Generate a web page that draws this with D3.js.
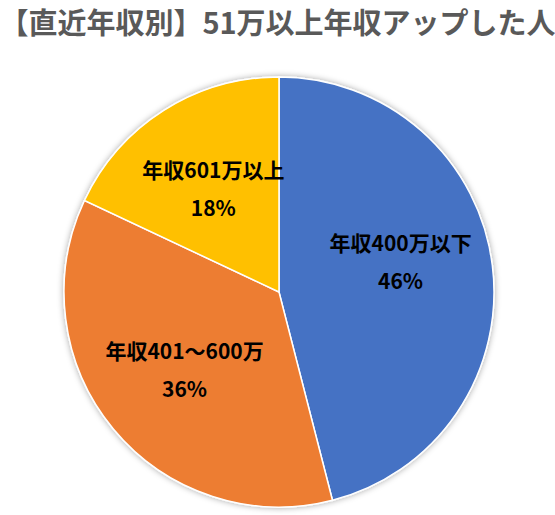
<!DOCTYPE html>
<html>
<head>
<meta charset="utf-8">
<script src="https://cdn.jsdelivr.net/npm/d3@7"></script>
<style>
  body { margin: 0; background: #fff; }
  svg { display: block; }
</style>
</head>
<body>
<svg id="chart"></svg>
<script>
const title = "【直近年収別】51万以上年収アップした人";
const categories = ["年収400万以下", "年収401～600万", "年収601万以上"];
const values = [46, 36, 18];
const colors = ["#4472C4", "#ED7D31", "#FFC000"];

const width = 555, height = 515;
const cx = 279, cy = 292, radius = 215;
const fontFamily = "'Noto Sans CJK JP', 'Noto Sans', sans-serif";

const svg = d3.select("#chart").attr("width", width).attr("height", height);

const defs = svg.append("defs");
const shadow = defs.append("filter").attr("id", "shadow")
  .attr("x", "-10%").attr("y", "-10%").attr("width", "120%").attr("height", "120%");
shadow.append("feDropShadow")
  .attr("dx", 0).attr("dy", 0).attr("stdDeviation", 3)
  .attr("flood-color", "#000").attr("flood-opacity", 0.35);

svg.append("text")
  .attr("x", width / 2)
  .attr("y", 34)
  .attr("text-anchor", "middle")
  .style("font-family", fontFamily)
  .style("font-weight", "bold")
  .style("font-size", "29px")
  .style("fill", "#595959")
  .text(title);

const data = categories.map((c, i) => ({ name: c, value: values[i], color: colors[i] }));

const pie = d3.pie().value(d => d.value).sort(null);
const arc = d3.arc().innerRadius(0).outerRadius(radius);
const labelArc = d3.arc().innerRadius(radius * 0.57).outerRadius(radius * 0.57);

const g = svg.append("g").attr("transform", `translate(${cx},${cy})`);

g.append("g").attr("filter", "url(#shadow)")
  .selectAll("path")
  .data(pie(data))
  .join("path")
  .attr("d", arc)
  .attr("fill", d => d.data.color)
  .attr("stroke", "#fff")
  .attr("stroke-width", 1.5);

const total = d3.sum(values);
const labels = g.selectAll("text.lbl")
  .data(pie(data))
  .join("text")
  .attr("class", "lbl")
  .attr("transform", d => {
    const [x, y] = labelArc.centroid(d);
    // Excel nudges the big slice's label up a bit
    return `translate(${x},${d.index === 0 ? y - 15 : y})`;
  })
  .attr("text-anchor", "middle")
  .style("font-family", fontFamily)
  .style("font-weight", "bold")
  .style("font-size", "21px")
  .style("fill", "#000");

labels.append("tspan").attr("x", 0).attr("y", -11).text(d => d.data.name);
labels.append("tspan").attr("x", 0).attr("y", 27)
  .text(d => d3.format(".0%")(d.data.value / total));
</script>
</body>
</html>
